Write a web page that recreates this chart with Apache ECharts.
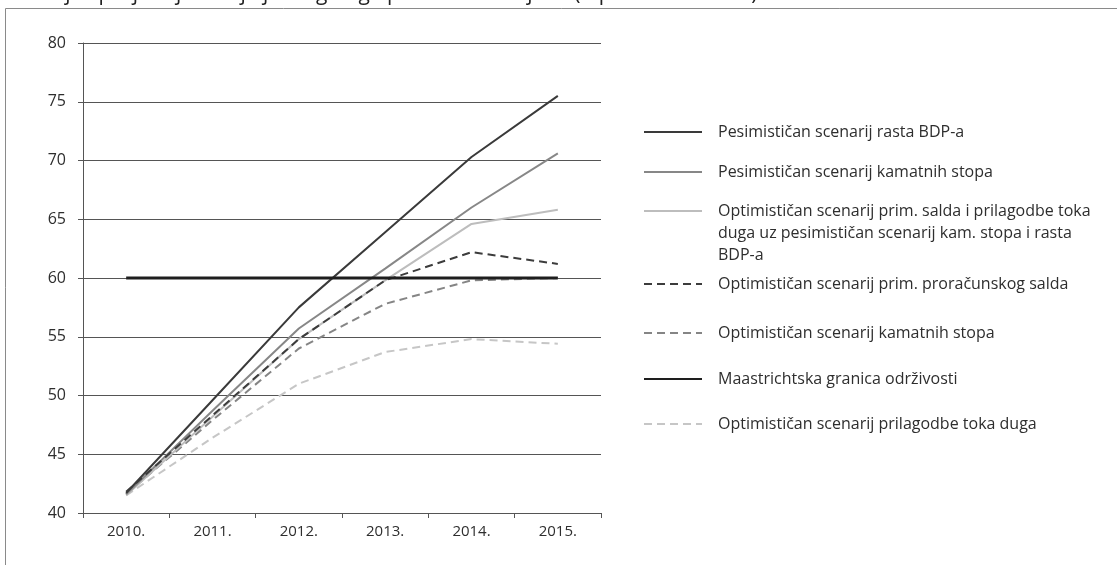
<!DOCTYPE html>
<html>
<head>
<meta charset="utf-8">
<script src="https://cdn.jsdelivr.net/npm/echarts@6/dist/echarts.min.js"></script>
<style>
html,body{margin:0;padding:0;background:#fff;}
#c{width:1117px;height:565px;}
</style>
</head>
<body>
<div id="c"></div>
<script>
const categories = ['2010.', '2011.', '2012.', '2013.', '2014.', '2015.'];
const yTicks = [40, 45, 50, 55, 60, 65, 70, 75, 80];

const nameGdpPess = 'Pesimističan scenarij rasta BDP-a';
const nameRatePess = 'Pesimističan scenarij kamatnih stopa';
const nameMixed = 'Optimističan scenarij prim. salda i prilagodbe toka\nduga uz pesimističan scenarij kam. stopa i rasta\nBDP-a';
const namePrimOpt = 'Optimističan scenarij prim. proračunskog salda';
const nameRateOpt = 'Optimističan scenarij kamatnih stopa';
const nameMaastricht = 'Maastrichtska granica održivosti';
const nameFlowOpt = 'Optimističan scenarij prilagodbe toka duga';

const gdpPess   = [41.7, 49.6, 57.5, 63.9, 70.3, 75.5];
const ratePess  = [41.6, 48.7, 55.7, 60.8, 66.0, 70.6];
const mixed     = [41.5, 48.2, 54.8, 59.8, 64.6, 65.8];
const primOpt   = [41.8, 48.3, 54.8, 59.8, 62.2, 61.2];
const rateOpt   = [41.6, 47.9, 54.0, 57.8, 59.8, 60.0];
const maastricht = [60, 60, 60, 60, 60, 60];
const flowOpt   = [41.5, 46.4, 51.0, 53.7, 54.8, 54.4];

const titleText = 'Kretanje i projekcija stanja javnog duga prema scenarijima (u postotku BDP-a)';

const chart = echarts.init(document.getElementById('c'));
const FONT = '"Open Sans", sans-serif';
const dash = [8, 5];

function mkSeries(name, data, color, width, type, z) {
  return {
    name: name, type: 'line', data: data, symbol: 'none', smooth: false, z: z,
    lineStyle: { color: color, width: width, type: type },
    itemStyle: { color: color },
    emphasis: { disabled: true }
  };
}

function mkLegend(name, centerY, multi) {
  return {
    show: true, orient: 'vertical', left: 643, top: centerY - 11 - (multi ? 44 : 0),
    itemWidth: 58, itemHeight: 22, padding: 0,
    data: [name], selectedMode: false,
    itemStyle: { opacity: 0, borderWidth: 0 },
    formatter: multi ? function (n) { return '\n\n' + n; } : null,
    textStyle: { fontFamily: FONT, fontSize: 16, color: '#2e2e2e', lineHeight: 22,
                 padding: [0, 0, 0, 11] }
  };
}

const option = {
  animation: false,
  backgroundColor: '#fff',
  graphic: [
    { type: 'rect', shape: { x: 5.5, y: 8.5, width: 1200, height: 700 },
      style: { fill: 'none', stroke: '#8a8a8a', lineWidth: 1 }, silent: true },
    { type: 'text', style: { text: titleText, x: 0, y: 5, verticalAlign: 'bottom',
      font: '21px "Open Sans", sans-serif', fill: '#222' }, silent: true }
  ],
  grid: { left: 83, right: 516, top: 43, bottom: 52, containLabel: false },
  xAxis: {
    type: 'category', data: categories, boundaryGap: true,
    axisLine: { show: true, lineStyle: { color: '#555', width: 1 } },
    axisTick: { show: true, length: 5, lineStyle: { color: '#555' } },
    axisLabel: { fontFamily: FONT, fontSize: 15, color: '#2e2e2e', margin: 11 },
    splitLine: { show: false }
  },
  yAxis: {
    type: 'value', min: yTicks[0], max: yTicks[yTicks.length - 1], interval: 5,
    axisLine: { show: true, lineStyle: { color: '#555', width: 1 } },
    axisTick: { show: true, length: 5, lineStyle: { color: '#555' } },
    axisLabel: { fontFamily: FONT, fontSize: 16, color: '#2e2e2e', margin: 17 },
    splitLine: { show: true, lineStyle: { color: '#555', width: 1 } }
  },
  legend: [
    mkLegend(nameGdpPess, 132),
    mkLegend(nameRatePess, 172),
    mkLegend(nameMixed, 211, true),
    mkLegend(namePrimOpt, 284),
    mkLegend(nameRateOpt, 333),
    mkLegend(nameMaastricht, 379),
    mkLegend(nameFlowOpt, 424)
  ],
  series: [
    mkSeries(nameFlowOpt, flowOpt, '#c6c6c6', 2, dash, 2),
    mkSeries(nameRateOpt, rateOpt, '#858585', 2, dash, 3),
    mkSeries(nameMixed, mixed, '#bdbdbd', 2, 'solid', 4),
    mkSeries(nameRatePess, ratePess, '#878787', 2, 'solid', 5),
    mkSeries(namePrimOpt, primOpt, '#3c3c3c', 2, dash, 6),
    mkSeries(nameGdpPess, gdpPess, '#3a3a3a', 2, 'solid', 7),
    mkSeries(nameMaastricht, maastricht, '#1e1e1e', 3, 'solid', 8)
  ]
};
chart.setOption(option);
</script>
</body>
</html>
